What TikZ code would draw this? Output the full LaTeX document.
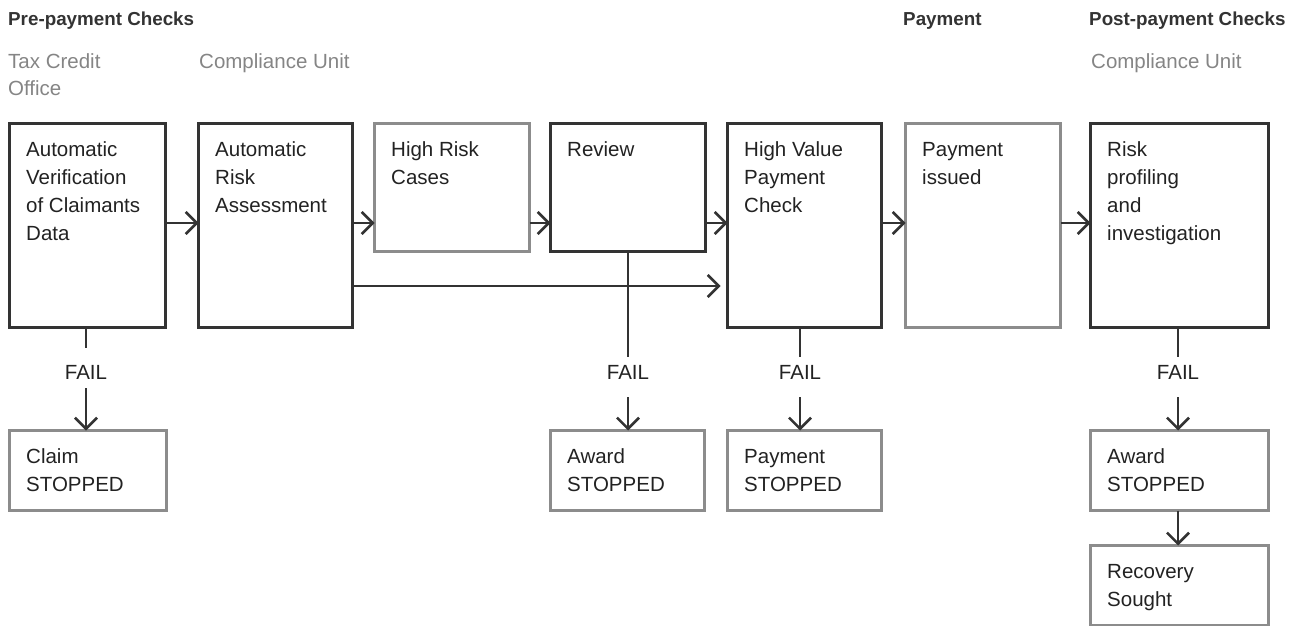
\documentclass[tikz,border=0pt]{standalone}
\usepackage{fontspec}
\setmainfont{Liberation Sans}
\usetikzlibrary{arrows.meta,calc}
\definecolor{dk}{HTML}{333333}
\definecolor{gr}{HTML}{8C8C8C}
\definecolor{tx}{HTML}{222222}
\definecolor{sb}{HTML}{858585}
\newcommand{\mlines}[1]{\begin{tabular}[t]{@{}l@{}}#1\end{tabular}}
\tikzset{
  box/.style={draw=dk,line width=2.8pt,outer sep=0pt,inner sep=0pt,anchor=north west},
  gbox/.style={box,draw=gr},
  txt/.style={anchor=base west,inner sep=0pt,text=tx,font=\fontsize{20.5}{28}\selectfont},
  head/.style={anchor=base west,inner sep=0pt,text=dk,font=\fontsize{18.8}{28}\selectfont\bfseries},
  subh/.style={anchor=base west,inner sep=0pt,text=sb,font=\fontsize{20.5}{28}\selectfont},
  fail/.style={inner sep=0pt,text=tx,font=\fontsize{20.5}{28}\selectfont},
  conn/.style={draw=dk,line width=2.6pt},
  arr/.style={conn,-{Straight Barb[length=11pt,width=22pt]}}
}
\begin{document}
\begin{tikzpicture}[x=1pt,y=-1pt]
\useasboundingbox (0,0) rectangle (1293,626);
% headers
\node[head] (h1) at (8,26) {Pre-payment Checks};
\node[head] (h2) at (903,26) {Payment};
\node[head] (h3) at (1089,26) {Post-payment Checks};
\node[subh] (s1) at (8,68) {\mlines{Tax Credit\\Office}};
\node[subh] (s2) at (199,68) {Compliance Unit};
\node[subh] (s3) at (1091,68) {Compliance Unit};
% main boxes
\node[box,minimum width=156pt,minimum height=204pt] (b1) at (9.5,123.5) {};
\node[box,minimum width=154pt,minimum height=204pt] (b2) at (198.5,123.5) {};
\node[gbox,minimum width=155pt,minimum height=128pt] (b3) at (374.5,123.5) {};
\node[box,minimum width=155pt,minimum height=128pt] (b4) at (550.5,123.5) {};
\node[box,minimum width=154pt,minimum height=204pt] (b5) at (727.5,123.5) {};
\node[gbox,minimum width=155pt,minimum height=204pt] (b6) at (905.5,123.5) {};
\node[box,minimum width=178pt,minimum height=204pt] (b7) at (1090.5,123.5) {};
% stop boxes
\node[gbox,minimum width=157pt,minimum height=80pt] (c1) at (9.5,430.5) {};
\node[gbox,minimum width=154pt,minimum height=80pt] (c2) at (550.5,430.5) {};
\node[gbox,minimum width=154pt,minimum height=80pt] (c3) at (727.5,430.5) {};
\node[gbox,minimum width=178pt,minimum height=80pt] (c4) at (1090.5,430.5) {};
\node[gbox,minimum width=178pt,minimum height=80pt] (c5) at (1090.5,545.5) {};
% texts
\node[txt] (t1) at ($(b1.north west)+(16.5,32.5)$) {\mlines{Automatic\\Verification\\of Claimants\\Data}};
\node[txt] (t2) at ($(b2.north west)+(16.5,32.5)$) {\mlines{Automatic\\Risk\\Assessment}};
\node[txt] (t3) at ($(b3.north west)+(16.5,32.5)$) {\mlines{High Risk\\Cases}};
\node[txt] (t4) at ($(b4.north west)+(16.5,32.5)$) {Review};
\node[txt] (t5) at ($(b5.north west)+(16.5,32.5)$) {\mlines{High Value\\Payment\\Check}};
\node[txt] (t6) at ($(b6.north west)+(16.5,32.5)$) {\mlines{Payment\\issued}};
\node[txt] (t7) at ($(b7.north west)+(16.5,32.5)$) {\mlines{Risk\\profiling\\and\\investigation}};
\node[txt] (u1) at ($(c1.north west)+(16.5,32.5)$) {\mlines{Claim\\STOPPED}};
\node[txt] (u2) at ($(c2.north west)+(16.5,32.5)$) {\mlines{Award\\STOPPED}};
\node[txt] (u3) at ($(c3.north west)+(16.5,32.5)$) {\mlines{Payment\\STOPPED}};
\node[txt] (u4) at ($(c4.north west)+(16.5,32.5)$) {\mlines{Award\\STOPPED}};
\node[txt] (u5) at ($(c5.north west)+(16.5,32.5)$) {\mlines{Recovery\\Sought}};
% FAIL labels
\node[fail] (f1) at (86,372) {FAIL};
\node[fail] (f2) at (628,372) {FAIL};
\node[fail] (f3) at (800,372) {FAIL};
\node[fail] (f4) at (1178,372) {FAIL};
% horizontal arrows
\coordinate (ya) at (0,223);
\coordinate (yb) at (0,286);
\draw[arr] (b1.east|-ya) -- (b2.west|-ya);
\draw[arr] (b2.east|-ya) -- (b3.west|-ya);
\draw[arr] (b3.east|-ya) -- (b4.west|-ya);
\draw[arr] (b4.east|-ya) -- (b5.west|-ya);
\draw[arr] (b5.east|-ya) -- (b6.west|-ya);
\draw[arr] (b6.east|-ya) -- (b7.west|-ya);
\draw[arr,shorten >=7pt] (b2.east|-yb) -- (b5.west|-yb);
% fail branches
\draw[conn] (b1.south-|f1) -- ($(f1)+(0,-24)$);
\draw[arr] ($(f1)+(0,16)$) -- (f1|-c1.north);
\draw[conn] (b4.south-|f2) -- ($(f2)+(0,-15)$);
\draw[arr] ($(f2)+(0,25)$) -- (f2|-c2.north);
\draw[conn] (b5.south-|f3) -- ($(f3)+(0,-15)$);
\draw[arr] ($(f3)+(0,25)$) -- (f3|-c3.north);
\draw[conn] (b7.south-|f4) -- ($(f4)+(0,-15)$);
\draw[arr] ($(f4)+(0,25)$) -- (f4|-c4.north);
\draw[arr] (c4.south-|f4) -- (f4|-c5.north);
\end{tikzpicture}
\end{document}
